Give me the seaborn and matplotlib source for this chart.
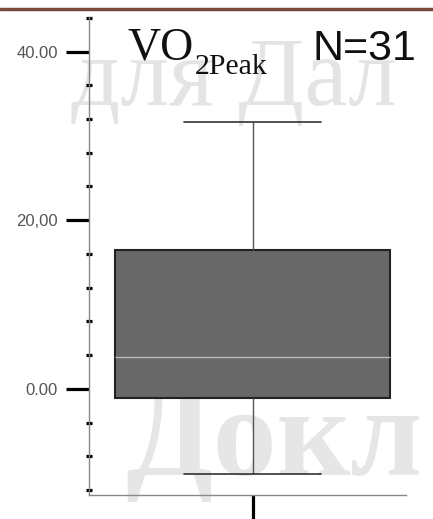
import matplotlib
matplotlib.use("Agg")
import matplotlib.pyplot as plt
import seaborn as sns
import pandas as pd
from matplotlib.ticker import FixedLocator, FixedFormatter

# Values (31 observations) chosen so the box statistics match the picture:
# min -10.1, Q1 -1.07, median 3.8, Q3 16.45, max 31.7
vo2peak = [-10.1, -8.0, -6.0, -4.5, -3.5, -2.5, -1.8, -1.2, -0.94,
           -0.5, 0.3, 1.0, 1.8, 2.5, 3.2, 3.8,
           5.0, 7.0, 9.0, 11.0, 13.0, 15.0, 16.2, 16.7,
           18.0, 20.0, 22.0, 24.5, 27.0, 29.5, 31.7]
major_ticks = [0, 20, 40]
major_labels = ["0.00", "20,00", "40.00"]
minor_ticks = [-12, -8, -4, 4, 8, 12, 16, 24, 28, 32, 36, 44]

df = pd.DataFrame({"group": ["VO2Peak"] * len(vo2peak), "value": vo2peak})

sns.set_style("white")
plt.rcParams["font.family"] = ["Liberation Sans", "DejaVu Sans"]

fig = plt.figure(figsize=(4.33, 5.19), dpi=100)
ax = fig.add_axes([0.2055, 0.0462, 0.732, 0.921])
ax.patch.set_alpha(0)

# watermark text (behind everything)
fig.text(0.165, 0.798, "для Дал", fontsize=70, color="#e4e4e4", family="Liberation Serif",
         zorder=-5)
fig.text(0.29, 0.085, "Докл", fontsize=92, color="#e6e6e6", family="Liberation Serif",
         fontweight="bold", zorder=-5)

sns.boxplot(data=df, x="group", y="value", ax=ax, width=0.867,
            color="#686868", linecolor="#222222", linewidth=1.2,
            medianprops=dict(color="#b8b8b8", linewidth=1.0),
            whiskerprops=dict(color="#555555", linewidth=1.0),
            capprops=dict(color="#333333", linewidth=1.2),
            boxprops=dict(facecolor="#686868", edgecolor="#222222", linewidth=1.5))

ax.set_xlim(-0.516, 0.484)
ax.set_ylim(-12.6, 44.1)
ax.set_xlabel("")
ax.set_ylabel("")

ax.yaxis.set_major_locator(FixedLocator(major_ticks))
ax.yaxis.set_major_formatter(FixedFormatter(major_labels))
ax.yaxis.set_minor_locator(FixedLocator(minor_ticks))
ax.tick_params(axis="y", which="major", direction="out", length=16.5, width=2.3,
               color="black", labelsize=12, labelcolor="#555555", pad=6, left=True)
ax.tick_params(axis="y", which="minor", direction="inout", length=4.5, width=2.3,
               color="black", left=True)
ax.set_xticks([0])
ax.set_xticklabels([""])
ax.tick_params(axis="x", which="major", direction="out", length=18, width=2.3,
               color="black", bottom=True)

for s in ["top", "right"]:
    ax.spines[s].set_visible(False)
for s in ["left", "bottom"]:
    ax.spines[s].set_color("#888888")
    ax.spines[s].set_linewidth(1.0)

# title inside the plot
fig.text(0.295, 0.885, "VO", fontsize=33, family="Liberation Serif", color="#111111",
         va="baseline", ha="left")
fig.text(0.450, 0.857, "2Peak", fontsize=21.5, family="Liberation Serif", color="#111111",
         va="baseline", ha="left")
fig.text(0.722, 0.885, "N=31", fontsize=31, family="Liberation Sans", color="#111111",
         va="baseline", ha="left")

# brown rule at the top
fig.add_artist(plt.Line2D([0, 1], [0.983, 0.983], transform=fig.transFigure,
                          color="#7a4a3c", linewidth=2.5))

fig.savefig("out.png", dpi=100)
